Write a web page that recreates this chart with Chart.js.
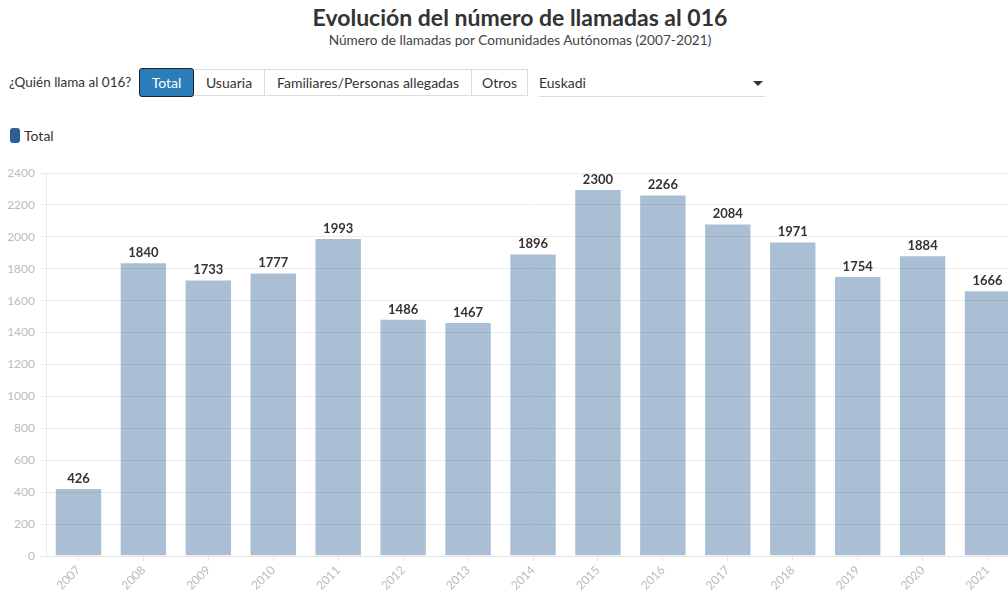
<!DOCTYPE html>
<html lang="es">
<head>
<meta charset="utf-8">
<script src="https://cdn.jsdelivr.net/npm/chart.js@4"></script>
<style>
  html, body { margin:0; padding:0; width:1008px; height:593px; overflow:hidden; background:#fff; font-family:"Lato","Noto Sans",sans-serif; color:#333; }
  #title { position:absolute; left:0; width:1040px; top:3px; text-align:center; font-size:23px; font-weight:bold; color:#333; }
  #subtitle { position:absolute; left:0; width:1040px; top:31px; text-align:center; font-size:13.7px; color:#444; }
  #quien { position:absolute; left:9px; top:74px; font-size:13.5px; color:#333; }
  .btn { position:absolute; top:69px; height:27px; box-sizing:border-box; border:1px solid #ddd; font-size:14px; color:#333; display:flex; align-items:center; justify-content:center; background:#fff; }
  .btn.active { top:68px; height:29px; background:#2b7db9; color:#fff; border:1px solid #222; border-radius:3px; z-index:2; }
  #sel { position:absolute; left:539px; top:74px; width:226px; height:22px; border-bottom:1px solid #ddd; font-size:14px; color:#333; }
  #arrow { position:absolute; left:753px; top:81px; width:0; height:0; border-left:5px solid transparent; border-right:5px solid transparent; border-top:5px solid #333; }
  #legend { position:absolute; left:10px; top:127px; display:flex; align-items:center; font-size:14px; color:#333; }
  #legend .sw { width:10px; height:15px; border-radius:3px; background:#2c6095; margin-right:4px; }
  #wrap { position:absolute; left:0; top:160px; width:1020px; height:433px; }
</style>
</head>
<body>
<div id="title">Evolución del número de llamadas al 016</div>
<div id="subtitle">Número de llamadas por Comunidades Autónomas (2007-2021)</div>
<div id="quien">¿Quién llama al 016?</div>
<div class="btn active" style="left:139px;width:55px;">Total</div>
<div class="btn" style="left:193px;width:72px;">Usuaria</div>
<div class="btn" style="left:264px;width:208px;">Familiares/Personas allegadas</div>
<div class="btn" style="left:471px;width:57px;">Otros</div>
<div id="sel">Euskadi</div>
<div id="arrow"></div>
<div id="legend"><div class="sw"></div>Total</div>
<div id="wrap"><canvas id="c" width="1020" height="433"></canvas></div>
<script>
const years = ["2007","2008","2009","2010","2011","2012","2013","2014","2015","2016","2017","2018","2019","2020","2021"];
const totalCalls = [426,1840,1733,1777,1993,1486,1467,1896,2300,2266,2084,1971,1754,1884,1666];
const yTicks = [0,200,400,600,800,1000,1200,1400,1600,1800,2000,2200,2400];
const seriesName = "Total";

const valueLabels = {
  id: 'valueLabels',
  afterDatasetsDraw(chart) {
    const ctx = chart.ctx;
    const meta = chart.getDatasetMeta(0);
    ctx.save();
    ctx.font = 'bold 13px Lato, "Noto Sans", sans-serif';
    ctx.fillStyle = '#333';
    ctx.textAlign = 'center';
    ctx.textBaseline = 'bottom';
    meta.data.forEach((bar, i) => {
      ctx.fillText(String(totalCalls[i]), bar.x, bar.y - 3);
    });
    ctx.restore();
  }
};

new Chart(document.getElementById('c'), {
  type: 'bar',
  data: {
    labels: years,
    datasets: [{
      label: seriesName,
      data: totalCalls,
      backgroundColor: 'rgba(44,95,147,0.4)',
      borderColor: 'rgba(255,255,255,0.35)',
      borderWidth: 1,
      categoryPercentage: 1,
      barPercentage: 0.73
    }]
  },
  options: {
    responsive: false,
    animation: false,
    layout: { padding: { top: 13, left: 0, right: 0, bottom: 0 } },
    plugins: { legend: { display: false }, tooltip: { enabled: false }, title: { display: false } },
    scales: {
      x: {
        grid: { display: true, drawOnChartArea: false, offset: false, tickLength: 5, color: '#e6e6e6' },
        border: { display: true, color: '#e6e6e6' },
        ticks: { minRotation: 45, maxRotation: 45, color: '#bbb', font: { family: 'Lato', size: 12 }, padding: 2 },
        afterFit(s) { s.height = 37; }
      },
      y: {
        min: 0, max: 2400,
        afterBuildTicks(s) { s.ticks = yTicks.map(v => ({ value: v })); },
        grid: { color: '#ececec', tickLength: 6 },
        border: { display: true, color: '#ececec' },
        ticks: { color: '#bbb', font: { family: 'Lato', size: 12 }, padding: 5, callback: v => String(v) },
        afterFit(s) { s.width = 46; }
      }
    }
  },
  plugins: [valueLabels]
});
</script>
</body>
</html>
